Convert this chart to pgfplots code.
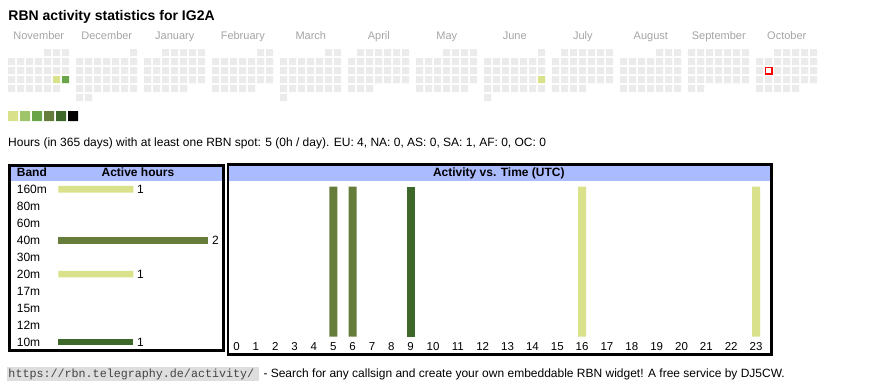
\documentclass[border=0pt]{standalone}
\usepackage{pgfplots}
\pgfplotsset{compat=1.18}
\usepackage{fontspec}
\setmainfont{Liberation Sans}
\newfontfamily\monofont{Liberation Mono}
\definecolor{lv1}{HTML}{D9E18A}
\definecolor{lv2}{HTML}{A0C46A}
\definecolor{lv3}{HTML}{6AA448}
\definecolor{lv4}{HTML}{667C3A}
\definecolor{lv5}{HTML}{3D682A}
\definecolor{cellgray}{HTML}{EBEBEB}
\definecolor{hdrblue}{HTML}{AABBFF}
\definecolor{monthgray}{HTML}{A4A4A4}
\definecolor{footgray}{HTML}{DEDEDE}
\definecolor{urlgray}{HTML}{444444}
\newcommand\fs[1]{\fontsize{#1}{#1}\selectfont}
\pgfplotstableread{
hour pos hours
5 333.25 1
6 352.6 1
}\olivehours
\pgfplotstableread{
hour pos hours
9 410.65 1
}\darkhours
\pgfplotstableread{
hour pos hours
16 582.1 1
23 756.05 1
}\lighthours
\begin{document}
\begin{tikzpicture}[x=1pt,y=1pt]
\path (0,0) rectangle (870,-390);
\fill[hdrblue] (11,-166.7) rectangle (222,-180.7);
\fill[hdrblue] (229.3,-165.8) rectangle (770,-180.7);

% ---------------- calendar ----------------
\begin{axis}[at={(0pt,0pt)}, anchor=north west, scale only axis,
  width=870pt, height=390pt, xmin=0, xmax=870, ymin=0, ymax=390,
  y dir=reverse, hide axis, clip=false,
  cal/.style 2 args={only marks, mark=square*, mark size=3.5pt,
    mark options={fill=#2, draw=#2, line width=0.01pt},
    x filter/.expression={11.8+68*#1+9*x}, y filter/.expression={52.8+9*y}},
  leg/.style={only marks, mark=square*, mark size=4.85pt,
    mark options={fill=#1, draw=#1, line width=0.01pt}}]
% November
\addplot[cal={0}{cellgray}] coordinates {(4,0)(5,0)(6,0)
 (0,1)(1,1)(2,1)(3,1)(4,1)(5,1)(6,1) (0,2)(1,2)(2,2)(3,2)(4,2)(5,2)(6,2)
 (0,3)(1,3)(2,3)(3,3)(4,3)(5,3)(6,3) (0,4)(1,4)(2,4)(3,4)(4,4)(5,4)};
% December
\addplot[cal={1}{cellgray}] coordinates {(6,0)
 (0,1)(1,1)(2,1)(3,1)(4,1)(5,1)(6,1) (0,2)(1,2)(2,2)(3,2)(4,2)(5,2)(6,2)
 (0,3)(1,3)(2,3)(3,3)(4,3)(5,3)(6,3) (0,4)(1,4)(2,4)(3,4)(4,4)(5,4)(6,4)
 (0,5)(1,5)};
% January
\addplot[cal={2}{cellgray}] coordinates {(2,0)(3,0)(4,0)(5,0)(6,0)
 (0,1)(1,1)(2,1)(3,1)(4,1)(5,1)(6,1) (0,2)(1,2)(2,2)(3,2)(4,2)(5,2)(6,2)
 (0,3)(1,3)(2,3)(3,3)(4,3)(5,3)(6,3) (0,4)(1,4)(2,4)(3,4)(4,4)};
% February
\addplot[cal={3}{cellgray}] coordinates {(5,0)(6,0)
 (0,1)(1,1)(2,1)(3,1)(4,1)(5,1)(6,1) (0,2)(1,2)(2,2)(3,2)(4,2)(5,2)(6,2)
 (0,3)(1,3)(2,3)(3,3)(4,3)(5,3)(6,3) (0,4)(1,4)(2,4)(3,4)(4,4)};
% March
\addplot[cal={4}{cellgray}] coordinates {(5,0)(6,0)
 (0,1)(1,1)(2,1)(3,1)(4,1)(5,1)(6,1) (0,2)(1,2)(2,2)(3,2)(4,2)(5,2)(6,2)
 (0,3)(1,3)(2,3)(3,3)(4,3)(5,3)(6,3) (0,4)(1,4)(2,4)(3,4)(4,4)(5,4)(6,4)
 (0,5)};
% April
\addplot[cal={5}{cellgray}] coordinates {(1,0)(2,0)(3,0)(4,0)(5,0)(6,0)
 (0,1)(1,1)(2,1)(3,1)(4,1)(5,1)(6,1) (0,2)(1,2)(2,2)(3,2)(4,2)(5,2)(6,2)
 (0,3)(1,3)(2,3)(3,3)(4,3)(5,3)(6,3) (0,4)(1,4)(2,4)};
% May
\addplot[cal={6}{cellgray}] coordinates {(3,0)(4,0)(5,0)(6,0)
 (0,1)(1,1)(2,1)(3,1)(4,1)(5,1)(6,1) (0,2)(1,2)(2,2)(3,2)(4,2)(5,2)(6,2)
 (0,3)(1,3)(2,3)(3,3)(4,3)(5,3)(6,3) (0,4)(1,4)(2,4)(3,4)(4,4)(5,4)};
% June
\addplot[cal={7}{cellgray}] coordinates {(6,0)
 (0,1)(1,1)(2,1)(3,1)(4,1)(5,1)(6,1) (0,2)(1,2)(2,2)(3,2)(4,2)(5,2)(6,2)
 (0,3)(1,3)(2,3)(3,3)(4,3)(5,3)(6,3) (0,4)(1,4)(2,4)(3,4)(4,4)(5,4)(6,4)
 (0,5)};
% July
\addplot[cal={8}{cellgray}] coordinates {(1,0)(2,0)(3,0)(4,0)(5,0)(6,0)
 (0,1)(1,1)(2,1)(3,1)(4,1)(5,1)(6,1) (0,2)(1,2)(2,2)(3,2)(4,2)(5,2)(6,2)
 (0,3)(1,3)(2,3)(3,3)(4,3)(5,3)(6,3) (0,4)(1,4)(2,4)(3,4)};
% August
\addplot[cal={9}{cellgray}] coordinates {(4,0)(5,0)(6,0)
 (0,1)(1,1)(2,1)(3,1)(4,1)(5,1)(6,1) (0,2)(1,2)(2,2)(3,2)(4,2)(5,2)(6,2)
 (0,3)(1,3)(2,3)(3,3)(4,3)(5,3)(6,3) (0,4)(1,4)(2,4)(3,4)(4,4)(5,4)(6,4)};
% September
\addplot[cal={10}{cellgray}] coordinates {(0,0)(1,0)(2,0)(3,0)(4,0)(5,0)(6,0)
 (0,1)(1,1)(2,1)(3,1)(4,1)(5,1)(6,1) (0,2)(1,2)(2,2)(3,2)(4,2)(5,2)(6,2)
 (0,3)(1,3)(2,3)(3,3)(4,3)(5,3)(6,3) (0,4)(1,4)};
% October
\addplot[cal={11}{cellgray}] coordinates {(2,0)(3,0)(4,0)(5,0)(6,0)
 (0,1)(1,1)(2,1)(3,1)(4,1)(5,1)(6,1) (0,2)(1,2)(2,2)(3,2)(4,2)(5,2)(6,2)
 (0,3)(1,3)(2,3)(3,3)(4,3)(5,3)(6,3) (0,4)(1,4)(2,4)(3,4)(4,4)};
% active days
\addplot[cal={0}{lv1}] coordinates {(5,3)};
\addplot[cal={0}{lv3}] coordinates {(6,3)};
\addplot[cal={7}{lv1}] coordinates {(6,3)};
% today
\addplot[cal={11}{white}, mark size=3.2pt, mark options={fill=white, draw=red, line width=1.3pt}] coordinates {(1,2)};
% level legend
\addplot[leg=lv1] coordinates {(13.2,115.8)};
\addplot[leg=lv2] coordinates {(25.2,115.8)};
\addplot[leg=lv3] coordinates {(37.2,115.8)};
\addplot[leg=lv4] coordinates {(49.2,115.8)};
\addplot[leg=lv5] coordinates {(61.2,115.8)};
\addplot[leg=black] coordinates {(73.2,115.8)};
\end{axis}

% ---------------- band table (160m = 9 at top ... 10m = 0 at bottom) ----------------
\begin{axis}[at={(9.65pt,-350.65pt)}, anchor=south west, scale only axis,
  width=213.7pt, height=185.3pt, xmin=-0.6487, xmax=2.2007,
  ymin=-0.508, ymax=10.411, clip=false,
  xbar, bar width=6.7pt, bar shift=0pt,
  axis line style={line width=2.7pt},
  xtick=\empty, ytick={0,1,2,3,4,5,6,7,8,9},
  yticklabels={10m,12m,15m,17m,20m,30m,40m,60m,80m,160m},
  major tick length=0pt,
  yticklabel style={anchor=west, inner sep=0pt, xshift=7.05pt, font=\fs{12}},
  /pgf/number format/assume math mode=true,
  point meta=x, nodes near coords,
  nodes near coords style={font=\fs{12}, anchor=west, inner sep=3.6pt}]
\addplot[draw=none, fill=lv1] coordinates {(1,9) (1,4)};
\addplot[draw=none, fill=lv4] coordinates {(2,6)};
\addplot[draw=none, fill=lv5] coordinates {(1,0)};
\end{axis}

% ---------------- activity vs time ----------------
\begin{axis}[at={(228pt,-354.7pt)}, anchor=south west, scale only axis,
  width=543.3pt, height=190.2pt, xmin=228, xmax=771.3,
  ymin=-0.12, ymax=1.148, clip=false,
  ybar, bar width=8pt, bar shift=0pt,
  axis line style={line width=2.7pt},
  ytick=\empty,
  xtick={236.5,255.85,275.2,294.55,313.9,333.25,352.6,371.95,391.3,410.65,433.0,457.85,482.7,507.55,532.4,557.25,582.1,606.95,631.8,656.65,681.5,706.35,731.2,756.05},
  xticklabels={0,1,2,3,4,5,6,7,8,9,10,11,12,13,14,15,16,17,18,19,20,21,22,23},
  major tick length=0pt,
  xticklabel style={anchor=base, inner sep=0pt, yshift=4.7pt, font=\fs{11.5}}]
\addplot[draw=none, fill=lv4] table[x=pos, y=hours] {\olivehours};
\addplot[draw=none, fill=lv5] table[x=pos, y=hours] {\darkhours};
\addplot[draw=none, fill=lv1] table[x=pos, y=hours] {\lighthours};
\end{axis}

% ---------------- texts ----------------
\node[anchor=base west, inner sep=0pt, font=\bfseries\fs{14}] at (8.3,-20.5) {RBN activity statistics for IG2A};
\foreach \m/\name in {0/November,1/December,2/January,3/February,4/March,5/April,6/May,7/June,8/July,9/August,10/September,11/October}
  \node[anchor=base, inner sep=0pt, font=\fs{11}, text=monthgray] at (38.8+68*\m,-39.3) {\name};
\node[anchor=base west, inner sep=0pt, font=\fs{12}] at (8,-147) {Hours (in 365 days) with at least one RBN spot: 5 (0h / day). EU: 4, NA: 0, AS: 0, SA: 1, AF: 0, OC: 0};
\node[anchor=base west, inner sep=0pt, font=\bfseries\fs{12}] at (16.7,-177) {Band};
\node[anchor=base, inner sep=0pt, font=\bfseries\fs{12}] at (138,-177) {Active hours};
\node[anchor=base, inner sep=0pt, font=\bfseries\fs{12}] at (498.8,-177) {Activity vs. Time (UTC)};
\fill[footgray] (7.3,-367) rectangle (258.5,-380.5);
\node[anchor=base west, inner sep=0pt, font=\monofont\fs{11.7}, text=urlgray] at (8.3,-377) {https://rbn.telegraphy.de/activity/};
\node[anchor=base west, inner sep=0pt, font=\fs{12}] at (263.3,-377) {- Search for any callsign and create your own embeddable RBN widget! A free service by DJ5CW.};
\end{tikzpicture}
\end{document}
